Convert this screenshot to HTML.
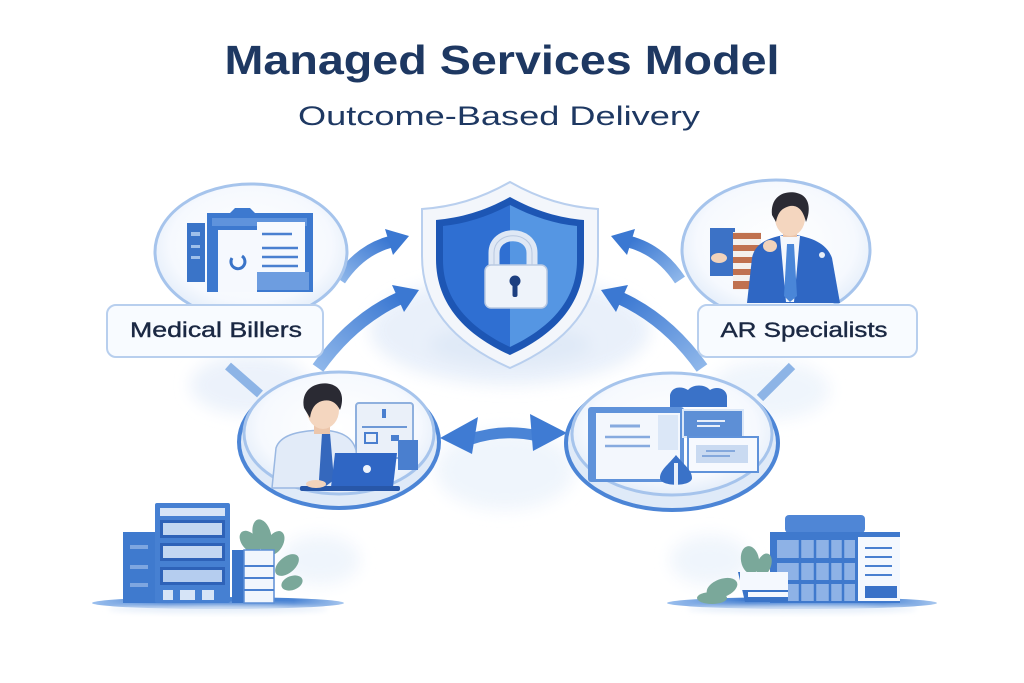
<!DOCTYPE html>
<html><head><meta charset="utf-8"><style>
html,body{margin:0;padding:0;background:#fff;}
svg{display:block;}
</style></head><body>
<svg width="1024" height="683" viewBox="0 0 1024 683" xmlns="http://www.w3.org/2000/svg" font-family="'Liberation Sans', sans-serif">
<defs>
<filter id="blur8" x="-50%" y="-50%" width="200%" height="200%"><feGaussianBlur stdDeviation="8"/></filter>
<filter id="blur3" x="-50%" y="-50%" width="200%" height="200%"><feGaussianBlur stdDeviation="3"/></filter>
<radialGradient id="cg" cx="50%" cy="45%" r="60%"><stop offset="0" stop-color="#ffffff"/><stop offset="0.7" stop-color="#f6f9fe"/><stop offset="1" stop-color="#dde9f8"/></radialGradient>
<linearGradient id="arr" x1="0" y1="1" x2="1" y2="0"><stop offset="0" stop-color="#8fb7ea"/><stop offset="1" stop-color="#3b78d2"/></linearGradient>
<linearGradient id="arrR" x1="1" y1="1" x2="0" y2="0"><stop offset="0" stop-color="#8fb7ea"/><stop offset="1" stop-color="#3b78d2"/></linearGradient>
<linearGradient id="plat" x1="0" y1="0" x2="1" y2="0"><stop offset="0" stop-color="#9cc0ee"/><stop offset="0.3" stop-color="#3f7bd0"/><stop offset="0.8" stop-color="#4a84d4"/><stop offset="1" stop-color="#a9c8ef"/></linearGradient>
</defs>

<!-- soft background wash -->
<g filter="url(#blur8)" opacity="0.9">
<ellipse cx="510" cy="330" rx="140" ry="55" fill="#e7effa"/>
<ellipse cx="505" cy="470" rx="70" ry="40" fill="#eef4fc"/>
<ellipse cx="250" cy="385" rx="60" ry="30" fill="#eaf1fb"/>
<ellipse cx="770" cy="390" rx="60" ry="30" fill="#eef4fc"/>
<ellipse cx="320" cy="560" rx="40" ry="25" fill="#eef4fc"/>
<ellipse cx="710" cy="560" rx="40" ry="25" fill="#eef4fc"/>
</g>

<!-- Title -->
<text x="502" y="74" text-anchor="middle" font-size="41" font-weight="bold" fill="#1e3862" textLength="555" lengthAdjust="spacingAndGlyphs">Managed Services Model</text>
<text x="499" y="125" text-anchor="middle" font-size="27" fill="#1e3862" textLength="402" lengthAdjust="spacingAndGlyphs">Outcome-Based Delivery</text>

<!-- connector lines -->
<line x1="228" y1="366" x2="260" y2="394" stroke="#8db4e6" stroke-width="9"/>
<line x1="792" y1="366" x2="760" y2="398" stroke="#8db4e6" stroke-width="9"/>

<!-- Arrows left -->
<path d="M340,280 Q360,250 390,242" fill="none" stroke="url(#arr)" stroke-width="12"/>
<polygon points="409,236 385,229 393,255" fill="#3b78d2"/>
<path d="M318,368 Q352,320 400,298" fill="none" stroke="url(#arr)" stroke-width="13"/>
<polygon points="419,290 392,285 404,312" fill="#3b78d2"/>
<!-- Arrows right -->
<path d="M680,280 Q660,250 630,242" fill="none" stroke="url(#arrR)" stroke-width="12"/>
<polygon points="611,236 635,229 627,255" fill="#3b78d2"/>
<path d="M702,368 Q668,320 620,298" fill="none" stroke="url(#arrR)" stroke-width="13"/>
<polygon points="601,290 628,285 616,312" fill="#3b78d2"/>

<!-- Shield -->
<ellipse cx="510" cy="345" rx="80" ry="20" fill="#dfe9f7" filter="url(#blur8)"/>
<path d="M510,182 C480,199 452,207 422,209 L422,256 C422,312 460,346 510,368 C560,346 598,312 598,256 L598,209 C568,207 540,199 510,182 Z" fill="#f3f6fb" stroke="#b9cfee" stroke-width="2"/>
<path d="M510,197 C485,211 460,218 436,220 L436,259 C436,306 468,336 510,355 C552,336 584,306 584,259 L584,220 C560,218 535,211 510,197 Z" fill="#1d56b4"/>
<path d="M510,205 C487,217 464,224 443,226 L443,260 C443,302 472,329 510,347 Z" fill="#2f6fd2"/>
<path d="M510,205 C533,217 556,224 577,226 L577,260 C577,302 548,329 510,347 Z" fill="#5596e3"/>
<!-- lock -->
<path d="M494,270 L494,253 C494,230 532,230 532,253 L532,270" fill="none" stroke="#dfe8f5" stroke-width="11"/>
<path d="M494,270 L494,253 C494,230 532,230 532,253 L532,270" fill="none" stroke="#b8c8e0" stroke-width="1"/>
<rect x="485" y="265" width="62" height="43" rx="6" fill="#eef3fa" stroke="#b9c9e2" stroke-width="1.5"/>
<circle cx="515" cy="281" r="5.5" fill="#1d3f80"/>
<rect x="512.5" y="283" width="5" height="14" rx="2" fill="#1d3f80"/>

<!-- Top-left circle -->
<ellipse cx="251" cy="252" rx="96" ry="68" fill="url(#cg)" stroke="#a6c4ec" stroke-width="3"/>
<rect x="187" y="223" width="18" height="59" fill="#3a74c8"/>
<rect x="191" y="232" width="9" height="4" fill="#9fc0ea"/>
<rect x="191" y="245" width="9" height="3" fill="#9fc0ea"/>
<rect x="191" y="256" width="9" height="3" fill="#9fc0ea"/>
<path d="M207,213 L230,213 L235,208 L250,208 L255,213 L313,213 L313,292 L207,292 Z" fill="#3d79cf"/>
<rect x="212" y="218" width="95" height="8" fill="#5f93dc"/>
<path d="M218,230 L257,230 L257,222 L305,222 L305,272 L257,272 L257,292 L218,292 Z" fill="#f6f9fe"/>
<rect x="257" y="272" width="52" height="18" fill="#6d9de0"/>
<line x1="262" y1="234" x2="292" y2="234" stroke="#4a80d0" stroke-width="2.5"/>
<line x1="262" y1="248" x2="298" y2="248" stroke="#4a80d0" stroke-width="2.5"/>
<line x1="262" y1="257" x2="298" y2="257" stroke="#4a80d0" stroke-width="2.5"/>
<line x1="262" y1="266" x2="298" y2="266" stroke="#4a80d0" stroke-width="2.5"/>
<path d="M232,258 A7,7 0 1 0 242,256" fill="none" stroke="#3a74c8" stroke-width="3"/>

<!-- Top-right circle -->
<ellipse cx="776" cy="250" rx="94" ry="70" fill="url(#cg)" stroke="#a6c4ec" stroke-width="3"/>
<!-- flag -->
<rect x="710" y="228" width="25" height="48" fill="#3c72c6"/>
<rect x="733" y="232" width="28" height="58" fill="#f4f1ee"/>
<rect x="733" y="233" width="28" height="6" fill="#c0714f"/>
<rect x="733" y="245" width="28" height="6" fill="#c0714f"/>
<rect x="733" y="257" width="28" height="6" fill="#c0714f"/>
<rect x="733" y="269" width="28" height="6" fill="#c0714f"/>
<rect x="733" y="281" width="28" height="8" fill="#c0714f"/>
<ellipse cx="719" cy="258" rx="8" ry="5" fill="#f2d3bb"/>
<!-- man -->
<path d="M747,303 L752,258 C755,242 770,237 790,234 C810,237 826,242 832,258 L840,303 Z" fill="#2f67c4"/>
<path d="M780,236 L800,236 L794,302 L786,302 Z" fill="#f4f7fc"/>
<path d="M787,244 L794,244 L797,296 L790,302 L784,296 Z" fill="#4a86d8"/>
<ellipse cx="770" cy="246" rx="7" ry="6" fill="#f2d3bb"/>
<rect x="783" y="225" width="14" height="12" fill="#ecc6ab"/>
<ellipse cx="790" cy="218" rx="15" ry="18" fill="#f4d6bf"/>
<path d="M772,215 C770,196 785,190 797,193 C810,196 811,210 806,222 C803,210 798,205 790,206 C782,208 778,212 776,222 Z" fill="#2a2a33"/>
<circle cx="822" cy="255" r="3" fill="#e8eef8"/>

<!-- Label boxes -->
<rect x="107" y="305" width="216" height="52" rx="9" fill="#f8fbff" stroke="#b8cfee" stroke-width="2"/>
<text x="216" y="337" text-anchor="middle" font-size="21" fill="#1b2843" stroke="#1b2843" stroke-width="0.4" textLength="172" lengthAdjust="spacingAndGlyphs">Medical Billers</text>
<rect x="698" y="305" width="219" height="52" rx="9" fill="#f8fbff" stroke="#b8cfee" stroke-width="2"/>
<text x="804" y="337" text-anchor="middle" font-size="21" fill="#1b2843" stroke="#1b2843" stroke-width="0.4" textLength="167" lengthAdjust="spacingAndGlyphs">AR Specialists</text>

<!-- Bottom-left circle -->
<ellipse cx="339" cy="442" rx="100" ry="66" fill="#dfeaf8" stroke="#4c85d6" stroke-width="4"/>
<ellipse cx="339" cy="433" rx="95" ry="61" fill="url(#cg)" stroke="#a6c4ec" stroke-width="3"/>
<rect x="356" y="403" width="57" height="55" rx="3" fill="#eaf0f9" stroke="#8fb0de" stroke-width="2"/>
<rect x="382" y="409" width="4" height="9" fill="#4a7fcf"/>
<line x1="362" y1="427" x2="407" y2="427" stroke="#6d98d6" stroke-width="2"/>
<rect x="365" y="433" width="12" height="10" fill="none" stroke="#4a7fcf" stroke-width="2"/>
<rect x="391" y="435" width="8" height="6" fill="#4a7fcf"/>
<rect x="398" y="440" width="20" height="30" fill="#4a7fcf"/>
<path d="M272,488 L276,448 C280,436 295,431 322,430 C340,431 352,436 356,450 L360,488 Z" fill="#e2ebf8" stroke="#9ab8e2" stroke-width="1.5"/>
<path d="M322,433 L330,433 L334,480 L326,486 L319,480 Z" fill="#3568bd"/>
<rect x="314" y="420" width="16" height="14" fill="#ecc6ab"/>
<ellipse cx="323" cy="410" rx="16" ry="19" fill="#f4d6bf"/>
<path d="M304,408 C300,388 318,381 330,384 C343,387 344,400 340,410 C336,402 330,399 322,401 C315,403 311,409 310,418 Z" fill="#2a2a33"/>
<polygon points="335,453 397,453 393,487 331,487" fill="#2f66c4"/>
<rect x="300" y="486" width="100" height="5" rx="2" fill="#2857a8"/>
<circle cx="367" cy="469" r="4" fill="#eef3fb"/>
<ellipse cx="316" cy="484" rx="10" ry="4" fill="#f2d3bb"/>

<!-- double arrow -->
<path d="M468,440 Q503,428 538,436" fill="none" stroke="#4a84d6" stroke-width="11"/>
<polygon points="440,438 478,417 472,454" fill="#3f7bd3"/>
<polygon points="567,433 530,414 533,451" fill="#3f7bd3"/>

<!-- Bottom-right circle -->
<ellipse cx="672" cy="443" rx="106" ry="67" fill="#dfeaf8" stroke="#4c85d6" stroke-width="4"/>
<ellipse cx="672" cy="434" rx="100" ry="61" fill="url(#cg)" stroke="#a6c4ec" stroke-width="3"/>
<path d="M670,407 L670,395 C672,386 682,386 688,390 C693,384 705,384 710,390 C716,386 726,388 727,396 L727,407 Z" fill="#3a72c8"/>
<rect x="588" y="407" width="96" height="75" rx="3" fill="#5f92da"/>
<rect x="596" y="413" width="84" height="66" fill="#f3f7fd"/>
<rect x="658" y="415" width="20" height="35" fill="#dbe7f7"/>
<line x1="610" y1="426" x2="640" y2="426" stroke="#86aadf" stroke-width="3"/>
<line x1="605" y1="437" x2="650" y2="437" stroke="#86aadf" stroke-width="2.5"/>
<line x1="605" y1="446" x2="650" y2="446" stroke="#86aadf" stroke-width="2.5"/>
<rect x="683" y="410" width="60" height="27" fill="#5d8fd6" stroke="#dbe7f7" stroke-width="2"/>
<line x1="697" y1="421" x2="725" y2="421" stroke="#e8effa" stroke-width="2"/>
<line x1="697" y1="426" x2="720" y2="426" stroke="#e8effa" stroke-width="2"/>
<rect x="688" y="437" width="70" height="35" fill="#f6f9fe" stroke="#5f92da" stroke-width="2"/>
<rect x="696" y="445" width="52" height="18" fill="#c9daf1"/>
<line x1="706" y1="451" x2="735" y2="451" stroke="#6d98d6" stroke-width="1.5"/>
<line x1="702" y1="456" x2="730" y2="456" stroke="#6d98d6" stroke-width="1.5"/>
<path d="M676,455 C668,465 660,470 660,478 C660,487 692,487 692,478 C692,470 684,465 676,455 Z" fill="#3a72c8"/>
<rect x="674" y="463" width="4" height="22" fill="#e8effa"/>

<!-- Bottom-left buildings -->
<ellipse cx="218" cy="603" rx="126" ry="6" fill="url(#plat)"/>
<ellipse cx="218" cy="609" rx="110" ry="4" fill="#e5eef9" filter="url(#blur3)"/>
<rect x="123" y="532" width="34" height="71" fill="#3f7ace"/>
<rect x="130" y="545" width="18" height="4" fill="#7ea6e0"/>
<rect x="130" y="565" width="18" height="4" fill="#7ea6e0"/>
<rect x="130" y="583" width="18" height="4" fill="#7ea6e0"/>
<rect x="155" y="503" width="75" height="100" rx="2" fill="#4680d2"/>
<rect x="160" y="508" width="65" height="8" fill="#d6e4f7"/>
<rect x="160" y="520" width="65" height="18" fill="#2e62b8"/>
<rect x="163" y="523" width="59" height="12" fill="#c3d7f2"/>
<rect x="160" y="543" width="65" height="18" fill="#2e62b8"/>
<rect x="163" y="546" width="59" height="12" fill="#c3d7f2"/>
<rect x="160" y="567" width="65" height="18" fill="#2e62b8"/>
<rect x="163" y="570" width="59" height="12" fill="#b5cdef"/>
<rect x="163" y="590" width="10" height="10" fill="#d6e4f7"/>
<rect x="180" y="590" width="15" height="10" fill="#d6e4f7"/>
<rect x="202" y="590" width="12" height="10" fill="#d6e4f7"/>
<g fill="#7aa89a">
<ellipse cx="262" cy="535" rx="9" ry="16" transform="rotate(-15 262 535)"/>
<ellipse cx="250" cy="542" rx="8" ry="13" transform="rotate(-40 250 542)"/>
<ellipse cx="275" cy="543" rx="8" ry="13" transform="rotate(30 275 543)"/>
<ellipse cx="287" cy="565" rx="8" ry="14" transform="rotate(50 287 565)"/>
<ellipse cx="292" cy="583" rx="7" ry="11" transform="rotate(70 292 583)"/>
</g>
<rect x="232" y="550" width="14" height="53" fill="#3a74c8"/>
<rect x="244" y="550" width="30" height="53" fill="#f1f6fd" stroke="#5d8fd6" stroke-width="1.5"/>
<line x1="244" y1="566" x2="274" y2="566" stroke="#4a80d0" stroke-width="2"/>
<line x1="244" y1="578" x2="274" y2="578" stroke="#4a80d0" stroke-width="2"/>
<line x1="244" y1="590" x2="274" y2="590" stroke="#4a80d0" stroke-width="2"/>

<!-- Bottom-right buildings -->
<ellipse cx="802" cy="603" rx="135" ry="6" fill="url(#plat)"/>
<ellipse cx="802" cy="609" rx="115" ry="4" fill="#e5eef9" filter="url(#blur3)"/>
<rect x="785" y="515" width="80" height="18" rx="4" fill="#4f86d6"/>
<rect x="770" y="532" width="130" height="71" fill="#3f79cd"/>
<rect x="777" y="540" width="78" height="18" fill="#8eb2e6"/>
<rect x="777" y="563" width="78" height="17" fill="#8eb2e6"/>
<rect x="777" y="584" width="78" height="17" fill="#8eb2e6"/>
<g stroke="#3f79cd" stroke-width="2.5">
<line x1="800" y1="540" x2="800" y2="601"/><line x1="815" y1="540" x2="815" y2="601"/><line x1="830" y1="540" x2="830" y2="601"/><line x1="843" y1="540" x2="843" y2="601"/>
</g>
<rect x="858" y="537" width="42" height="64" fill="#f4f8fe"/>
<line x1="865" y1="548" x2="892" y2="548" stroke="#4a80d0" stroke-width="2"/>
<line x1="865" y1="557" x2="892" y2="557" stroke="#4a80d0" stroke-width="2"/>
<line x1="865" y1="566" x2="892" y2="566" stroke="#4a80d0" stroke-width="2"/>
<line x1="865" y1="575" x2="892" y2="575" stroke="#4a80d0" stroke-width="2"/>
<rect x="865" y="586" width="32" height="12" fill="#3a72c8"/>
<g fill="#7aa89a">
<ellipse cx="750" cy="560" rx="9" ry="14" transform="rotate(-10 750 560)"/>
<ellipse cx="764" cy="565" rx="7" ry="12" transform="rotate(20 764 565)"/>
<ellipse cx="722" cy="588" rx="16" ry="9" transform="rotate(-20 722 588)"/>
<ellipse cx="712" cy="598" rx="15" ry="6"/>
</g>
<path d="M738,572 L788,572 L788,602 L745,602 Z" fill="#3a74c8"/>
<rect x="740" y="572" width="48" height="18" fill="#f4f8fe"/>
<rect x="748" y="592" width="40" height="5" fill="#f4f8fe"/>
</svg>
</body></html>
